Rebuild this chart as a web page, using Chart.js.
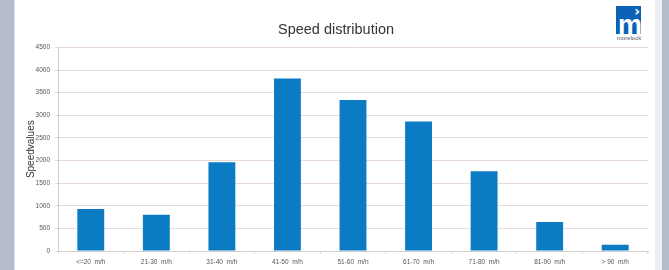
<!DOCTYPE html>
<html>
<head>
<meta charset="utf-8">
<script src="https://cdn.jsdelivr.net/npm/chart.js@4.4.0/dist/chart.umd.min.js"></script>
<style>
  html, body { margin:0; padding:0; }
  body { width:669px; height:270px; background:#b4bccb; position:relative; overflow:hidden; font-family:"Liberation Sans", Arial, sans-serif; }
  #panel { position:absolute; left:14px; top:0; width:641px; height:270px; background:#ffffff; border-left:1px solid #d8dde6; }
  #edge { position:absolute; left:655px; top:0; width:7px; height:270px; background:#eceef2; }
  #wrap { position:absolute; left:14px; top:0; width:641px; height:270px; }
  #logo { position:absolute; left:616px; top:6px; width:25px; height:28px; background:#0b62b5; overflow:hidden; }
  #logo .m { position:absolute; left:2px; bottom:-5px; color:#fff; font:bold 27px "Liberation Sans", Arial, sans-serif; line-height:27px; }
  #logo .c { position:absolute; right:1px; top:-3px; color:#fff; font:bold 14px "DejaVu Sans", sans-serif; }
  #brand { position:absolute; left:610px; top:35px; width:38px; text-align:center; color:#555; font:6px "Liberation Sans", Arial, sans-serif; }
</style>
</head>
<body>
<div id="panel"></div>
<div id="edge"></div>
<div id="wrap"><canvas id="c" width="641" height="270"></canvas></div>
<div id="logo"><span class="m">m</span><span class="c">›</span></div>
<div id="brand">morelock</div>
<script>
const categories = ["<=20  m/h", "21-30  m/h", "31-40  m/h", "41-50  m/h", "51-60  m/h", "61-70  m/h", "71-80  m/h", "81-90  m/h", "> 90  m/h"];
const speedValues = [930, 800, 1960, 3810, 3335, 2860, 1765, 640, 140];
const yTicks = [0, 500, 1000, 1500, 2000, 2500, 3000, 3500, 4000, 4500];

new Chart(document.getElementById('c'), {
  type: 'bar',
  data: {
    labels: categories,
    datasets: [{
      label: 'Speedvalues',
      data: speedValues,
      backgroundColor: '#0b7cc4',
      borderWidth: 0,
      barPercentage: 0.41,
      categoryPercentage: 1.0
    }]
  },
  options: {
    responsive: false,
    animation: false,
    layout: { padding: { left: 10, right: 7, top: 0, bottom: 0 } },
    plugins: {
      legend: { display: false },
      tooltip: { enabled: false },
      title: {
        display: true,
        text: 'Speed distribution',
        color: '#333333',
        font: { family: '"Liberation Sans", Arial, sans-serif', size: 14.5, weight: 'normal' },
        padding: { top: 21, bottom: 9 }
      }
    },
    scales: {
      x: {
        afterFit: s => { s.height = 19; },
        grid: { offset: true, drawOnChartArea: false, tickLength: 3, color: '#dcdcdc' },
        border: { color: '#d5d0d0' },
        ticks: { color: '#555555', font: { family: '"Liberation Sans", Arial, sans-serif', size: 6.5 }, padding: 4, maxRotation: 0, autoSkip: false }
      },
      y: {
        min: 0, max: 4500,
        afterBuildTicks: s => { s.ticks = yTicks.map(v => ({ value: v })); },
        afterFit: s => { s.width = 34; },
        grid: { color: '#e8dada', tickLength: 3 },
        border: { color: '#cfcfcf' },
        ticks: { color: '#555555', font: { family: '"Liberation Sans", Arial, sans-serif', size: 6.5 }, padding: 5, callback: v => String(v) },
        title: {
          display: true,
          text: 'Speedvalues',
          color: '#333333',
          font: { family: '"Liberation Sans", Arial, sans-serif', size: 10 },
          padding: { top: 1, bottom: 0 }
        }
      }
    }
  }
});
</script>
</body>
</html>
